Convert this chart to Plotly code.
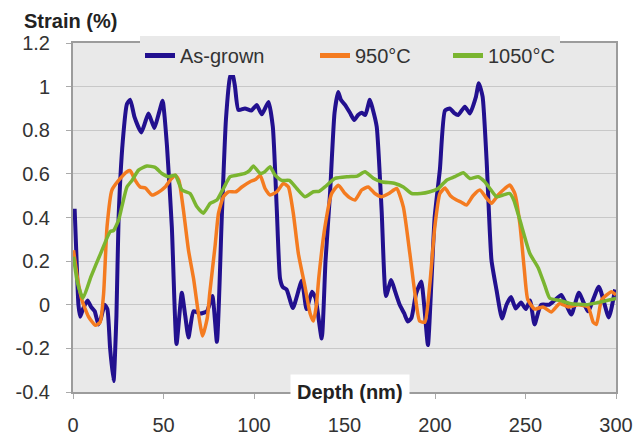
import plotly.graph_objects as go

# ---------------- data ----------------
series_names = ["As-grown", "950°C", "1050°C"]

asgrown_x = [0.9, 2, 3, 4, 5.5, 8, 10, 12, 14, 15.5, 17.5, 19, 20.5, 22.4, 24, 25.2, 27.5, 29.8, 31.6, 34,
             37.7, 40, 41.7, 43.5, 45, 47.5, 49.5, 51.9, 54.6, 57.2, 60.1, 62, 63.8, 66.6, 70.3, 74, 77, 79.5,
             82.2, 84.5, 86.8, 88.1, 89.5, 91.4, 95, 98.5, 101.5, 104.3, 108, 110.4, 112.6, 114.4, 116, 118,
             121.5, 126.4, 129, 132, 134, 137.4, 139.5, 142, 144.5, 146.5, 148, 150.3, 153, 155.4, 157.5, 159.5,
             161.5, 164, 165.5, 167.8, 170.5, 172.9, 175.8, 178, 180.5, 183, 185, 187, 189.5, 192.4, 194, 196.1,
             198, 199.8, 202.7, 205.5, 208.2, 210.5, 212.8, 216.5, 219.3, 222.5, 224.2, 226.3, 228.5, 231.2,
             234, 237, 239.5, 242, 244.6, 247.5, 250.2, 252.5, 255, 258.6, 263, 266, 269.8, 275.3, 279.5,
             284.5, 290.5, 296, 299.5]
asgrown_y = [0.44, 0.2, 0.0, -0.055, -0.02, 0.02, -0.01, -0.03, -0.09, -0.06, 0.0, -0.02, -0.2, -0.35, -0.05,
             0.4, 0.75, 0.92, 0.94, 0.86, 0.79, 0.84, 0.877, 0.84, 0.81, 0.88, 0.935, 0.73, 0.357, -0.18, 0.055,
             -0.05, -0.15, -0.03, -0.04, -0.03, 0.04, -0.17, 0.4, 0.85, 1.045, 1.064, 1.0, 0.893, 0.9, 0.89,
             0.916, 0.873, 0.93, 0.816, 0.434, 0.12, 0.08, 0.07, -0.015, 0.11, -0.02, 0.06, 0.03, -0.155, 0.2,
             0.51, 0.88, 0.975, 0.94, 0.916, 0.88, 0.847, 0.87, 0.88, 0.87, 0.94, 0.9, 0.816, 0.434, 0.04,
             0.114, 0.06, 0.0, -0.04, -0.077, -0.06, 0.05, 0.107, 0.0, -0.185, 0.1, 0.4, 0.62, 0.89, 0.9, 0.88,
             0.87, 0.908, 0.877, 0.95, 1.015, 0.954, 0.663, 0.205, 0.067, -0.063, 0.0, 0.035, -0.017, 0.01,
             -0.02, 0.02, -0.09, 0.0, 0.0, 0.02, 0.045, -0.045, 0.055, -0.03, 0.083, -0.058, 0.07]

t950_x = [0.3, 2.5, 5, 8.6, 12.3, 15, 16.9, 18.8, 21.5, 25.2, 29.8, 31.6, 34.4, 37.1, 40, 43.6, 47, 50.9, 54,
          56.5, 58.5, 61, 63.8, 66.6, 69.3, 71.6, 74.2, 75.5, 78.5, 80.4, 83.1, 85.9, 90, 93.3, 97.8, 101,
          103.4, 106.1, 108.9, 112.6, 116.2, 119, 121.7, 124.5, 128.2, 131, 132.8, 134.5, 135.8, 139.2, 142.9,
          146.6, 150.3, 153, 155.8, 159.5, 163.1, 166.8, 170.5, 174.5, 178.8, 182.5, 186.1, 188.9, 191.5,
          194.4, 197.2, 199.9, 202.7, 205.5, 208.5, 211.9, 214.5, 217.4, 221, 224.8, 228.5, 231.2, 234.9,
          238.6, 241.3, 244.1, 246.9, 249.3, 251.2, 255, 259.7, 264.3, 268.9, 273.5, 279.1, 284.6, 287.4,
          289.2, 291.9, 294.7, 297.5, 300]
t950_y = [0.25, 0.12, 0.02, -0.055, -0.094, -0.08, 0.05, 0.357, 0.526, 0.57, 0.61, 0.615, 0.57, 0.54, 0.535,
          0.503, 0.515, 0.54, 0.575, 0.594, 0.57, 0.434, 0.25, 0.12, -0.04, -0.143, -0.06, 0.05, 0.27, 0.42,
          0.495, 0.518, 0.518, 0.54, 0.564, 0.575, 0.594, 0.533, 0.503, 0.518, 0.556, 0.54, 0.42, 0.235,
          0.082, -0.04, -0.075, 0.0, 0.124, 0.357, 0.51, 0.548, 0.51, 0.49, 0.48, 0.526, 0.54, 0.51, 0.495,
          0.51, 0.533, 0.449, 0.235, 0.052, -0.075, -0.08, 0.1, 0.357, 0.51, 0.535, 0.5, 0.48, 0.47, 0.457,
          0.5, 0.526, 0.488, 0.465, 0.503, 0.533, 0.549, 0.51, 0.37, 0.165, 0.025, -0.02, -0.01, -0.033,
          0.006, -0.01, 0.0, -0.01, -0.08, -0.09, 0.02, 0.044, 0.06, 0.045]

t1050_x = [0.3, 2.5, 5.5, 10, 15, 20.6, 22.4, 25.2, 27, 29.8, 32.6, 36.2, 40.8, 45.4, 49.1, 52.8, 56.5, 60.2,
           64.7, 68.4, 72, 75.8, 79.5, 83.1, 86.8, 90.5, 95, 97.5, 99.7, 103.4, 106, 108.9, 111.6, 115.3,
           119.5, 123.6, 128.2, 132.8, 136, 139.2, 144.8, 152.1, 157, 161.3, 165.9, 170.5, 177.9, 182.5,
           187.1, 192, 197.2, 201.8, 206.4, 211, 215.6, 219.3, 223.8, 227.5, 230.3, 234, 237.6, 241.3, 243.5,
           246.9, 252.4, 257, 260.6, 263.4, 268.9, 274.5, 283.7, 290, 300]
t1050_y = [0.22, 0.1, 0.03, 0.13, 0.23, 0.336, 0.34, 0.388, 0.45, 0.54, 0.57, 0.617, 0.636, 0.63, 0.602,
           0.587, 0.594, 0.526, 0.51, 0.45, 0.42, 0.465, 0.48, 0.533, 0.587, 0.594, 0.602, 0.615, 0.636,
           0.602, 0.61, 0.633, 0.594, 0.57, 0.57, 0.533, 0.495, 0.518, 0.52, 0.54, 0.579, 0.587, 0.59, 0.61,
           0.58, 0.564, 0.556, 0.54, 0.51, 0.51, 0.518, 0.533, 0.571, 0.587, 0.605, 0.579, 0.587, 0.564,
           0.533, 0.495, 0.503, 0.51, 0.48, 0.388, 0.235, 0.17, 0.09, 0.03, 0.02, 0.006, 0.0, 0.01, 0.029]

x_ticks = [0, 50, 100, 150, 200, 250, 300]
y_ticks = [-0.4, -0.2, 0, 0.2, 0.4, 0.6, 0.8, 1.0, 1.2]
y_tick_labels = ["-0.4", "-0.2", "0", "0.2", "0.4", "0.6", "0.8", "1", "1.2"]

x_title = "Depth (nm)"
y_title = "Strain (%)"

# ---------------- styles ----------------
colors = ["#22108f", "#f47b20", "#7ab530"]
widths = [4, 3.5, 3.5]
legend_widths = [130, 88, None]
FONT = "Liberation Sans, Arial, sans-serif"
PLOT_BG = "#e9e9e9"

fig = go.Figure()
for name, xs, ys, c, w, lw in zip(series_names,
                                  [asgrown_x, t950_x, t1050_x],
                                  [asgrown_y, t950_y, t1050_y],
                                  colors, widths, legend_widths):
    tr = dict(x=xs, y=ys, name=name, mode="lines",
              line=dict(color=c, width=w, shape="spline", smoothing=0.5))
    if lw is not None:
        tr["legendwidth"] = lw
    fig.add_trace(go.Scatter(**tr))

L, R, T, B = 73, 22, 43, 45
pw = 638 - L - R
ph = 437 - T - B

fig.update_layout(
    width=638, height=437,
    margin=dict(l=L, r=R, t=T, b=B, autoexpand=False),
    paper_bgcolor="white",
    plot_bgcolor=PLOT_BG,
    font=dict(family=FONT, size=20, color="#333333"),
    showlegend=True,
    legend=dict(orientation="h", x=(140 - L) / pw, y=1.02, xanchor="left", yanchor="top",
                bgcolor=PLOT_BG, borderwidth=0, font=dict(size=20, color="#333333"),
                itemsizing="constant"),
    xaxis=dict(range=[0, 300], tickvals=x_ticks, showgrid=False, zeroline=False,
               showline=True, linecolor="#9c9c9c", linewidth=2, mirror=True,
               ticks="outside", ticklen=5, tickcolor="#aaaaaa", tickwidth=1,
               ticklabelstandoff=9, tickfont=dict(size=20, color="#333333")),
    yaxis=dict(range=[-0.4, 1.2], tickvals=y_ticks, ticktext=y_tick_labels,
               showgrid=True, gridcolor="#c8c8c8", gridwidth=1, zeroline=False,
               showline=True, linecolor="#9c9c9c", linewidth=2, mirror=True,
               ticks="outside", ticklen=5, tickcolor="#aaaaaa", tickwidth=1,
               ticklabelstandoff=12, tickfont=dict(size=20, color="#333333")),
)

fig.add_annotation(text="<b>" + y_title + "</b>", xref="paper", yref="paper",
                   x=(22 - L) / pw, y=(437 - B - 21) / ph, xanchor="left", yanchor="middle",
                   showarrow=False, font=dict(size=20, color="#222222", family=FONT))
fig.add_annotation(text="<b>" + x_title + "</b>", xref="paper", yref="paper",
                   x=(350 - L) / pw, y=(437 - B - 392) / ph, xanchor="center", yanchor="middle",
                   showarrow=False, bgcolor="white", borderpad=6,
                   font=dict(size=20, color="#222222", family=FONT))

fig.write_html("out.html")
